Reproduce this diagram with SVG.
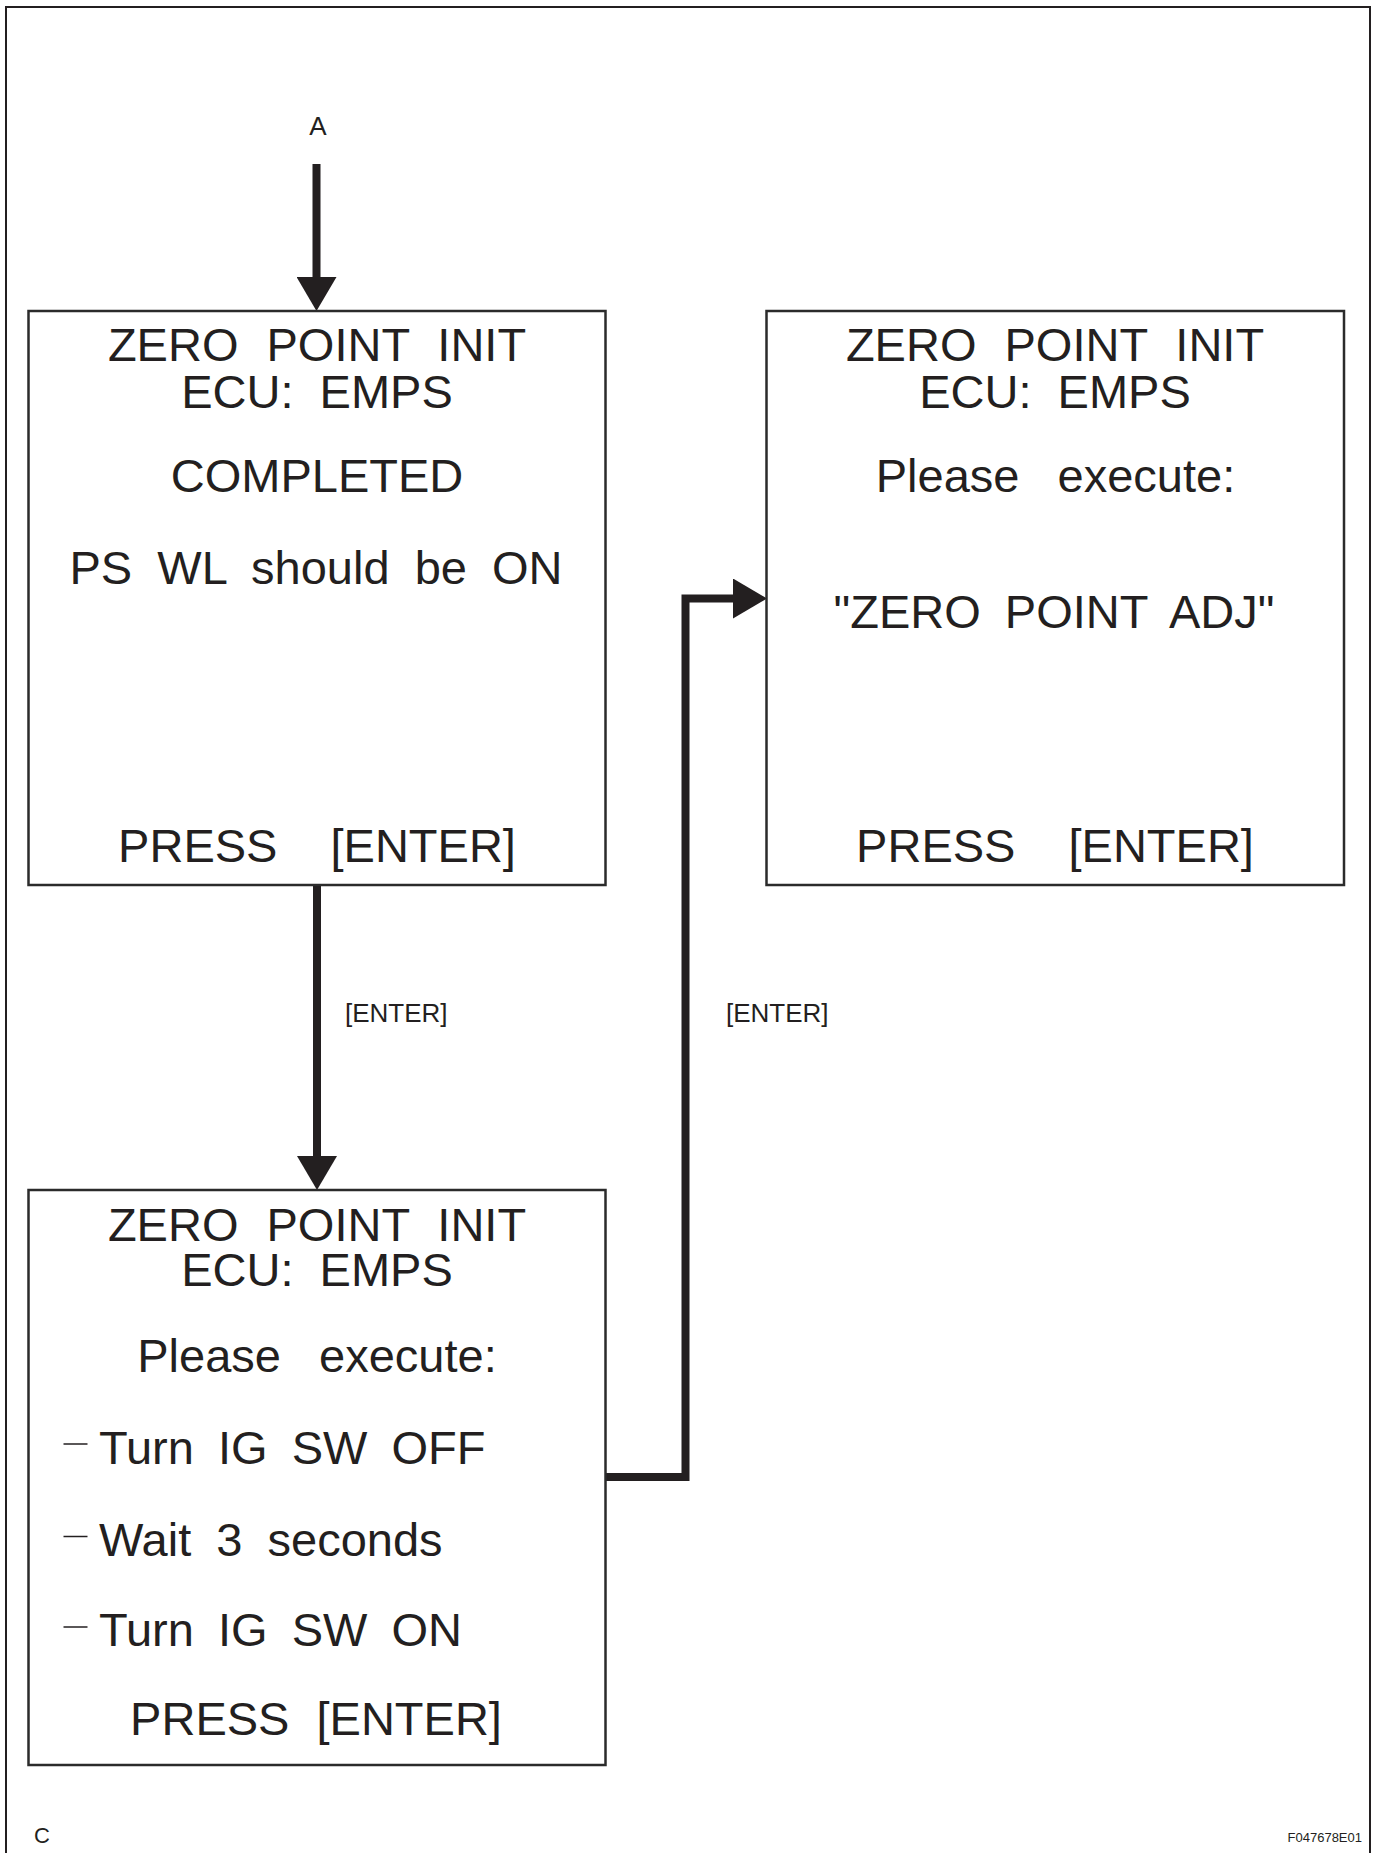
<svg xmlns="http://www.w3.org/2000/svg" width="1376" height="1853" viewBox="0 0 1376 1853">
<style>
.frame{fill:none;stroke:#231f20;stroke-width:2}
.box{fill:#fff;stroke:#2b2b2b;stroke-width:2.5}
.conn{fill:none;stroke:#231f20;stroke-width:8;stroke-linecap:butt;stroke-linejoin:miter}
.dash{stroke:#231f20;stroke-width:1.5}
text{font-family:"Liberation Sans",Arial,Helvetica,sans-serif;fill:#231f20}
.big{font-size:47px;text-anchor:middle}
.left{font-size:47px;text-anchor:start}
.lbl{font-size:26px}
</style>
<defs>
<marker id="head" markerUnits="userSpaceOnUse" markerWidth="34" markerHeight="40" refX="0" refY="20" orient="auto" viewBox="0 0 34 40">
<path d="M0,0 L34,20 L0,40 Z" fill="#231f20"/>
</marker>
</defs>
<rect width="1376" height="1853" fill="#fff"/>
<path class="frame" d="M6,1853 V7 H1370 V1853"/>

<g id="connectors">
<line class="conn" x1="316.5" y1="164" x2="316.5" y2="277" marker-end="url(#head)"/>
<line class="conn" x1="317" y1="885" x2="317" y2="1156" marker-end="url(#head)"/>
<path class="conn" d="M605.5,1477 H685.5 V598.5 H733" marker-end="url(#head)"/>
<text class="lbl" x="318" y="135" text-anchor="middle" font-size="25">A</text>
<text class="lbl" x="345" y="1022">[ENTER]</text>
<text class="lbl" x="726" y="1022">[ENTER]</text>
</g>

<g id="node-completed">
<rect class="box" x="28.5" y="311" width="577" height="574"/>
<text class="big" x="317" y="361" word-spacing="15">ZERO POINT INIT</text>
<text class="big" x="317" y="408" word-spacing="13">ECU: EMPS</text>
<text class="big" x="317" y="492">COMPLETED</text>
<text class="big" x="316" y="584" word-spacing="12">PS WL should be ON</text>
<text class="big" x="317" y="862" word-spacing="40">PRESS [ENTER]</text>
</g>

<g id="node-execute-adj">
<rect class="box" x="766.5" y="311" width="577.5" height="574"/>
<text class="big" x="1055" y="361" word-spacing="15">ZERO POINT INIT</text>
<text class="big" x="1055" y="408" word-spacing="13">ECU: EMPS</text>
<text class="big" x="1055.5" y="492" word-spacing="25">Please execute:</text>
<text class="big" x="1054" y="628" word-spacing="11">"ZERO POINT ADJ"</text>
<text class="big" x="1055" y="862" word-spacing="40">PRESS [ENTER]</text>
</g>

<g id="node-execute-ig">
<rect class="box" x="28.5" y="1190" width="577" height="575"/>
<text class="big" x="317" y="1241" word-spacing="15">ZERO POINT INIT</text>
<text class="big" x="317" y="1286" word-spacing="13">ECU: EMPS</text>
<text class="big" x="317" y="1372" word-spacing="25">Please execute:</text>
<line class="dash" x1="63.5" y1="1444" x2="87.5" y2="1444"/>
<text class="left" x="99" y="1463.5" word-spacing="11">Turn IG SW OFF</text>
<line class="dash" x1="63.5" y1="1536.5" x2="87.5" y2="1536.5"/>
<text class="left" x="99" y="1556" word-spacing="12">Wait 3 seconds</text>
<line class="dash" x1="63.5" y1="1627" x2="87.5" y2="1627"/>
<text class="left" x="99" y="1646" word-spacing="11">Turn IG SW ON</text>
<text class="big" x="316" y="1735" word-spacing="14">PRESS [ENTER]</text>
</g>

<text x="34" y="1843" font-size="22">C</text>
<text x="1362" y="1842" font-size="13" text-anchor="end">F047678E01</text>
</svg>
